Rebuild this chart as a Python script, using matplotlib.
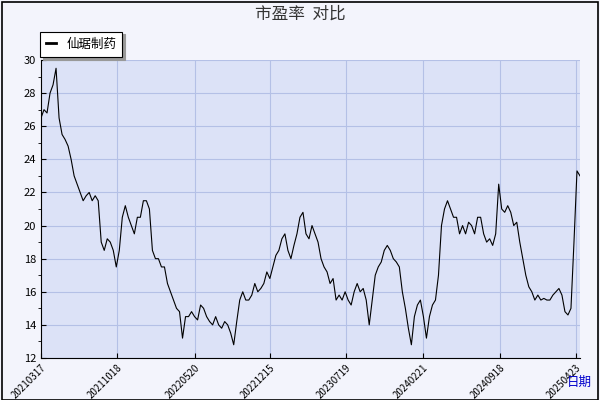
import numpy as np
import matplotlib
matplotlib.use("Agg")
import matplotlib.pyplot as plt
from matplotlib.patches import Rectangle

plt.rcParams['font.family'] = ['Noto Sans CJK SC', 'DejaVu Sans']

title = "市盈率  对比"
series_name = "仙琚制药"
xlabel = "日期"
date_labels = ["20210317", "20211018", "20220520", "20221215", "20230719", "20240221", "20240918", "20250423"]
pe = [26.5, 27, 26.8, 28, 28.5, 29.5, 26.5, 25.5, 25.2, 24.8, 24, 23, 22.5, 22, 21.5, 21.8, 22, 21.5, 21.8, 21.5,
      19, 18.5, 19.2, 19, 18.5, 17.5, 18.5, 20.5, 21.2, 20.5, 20, 19.5, 20.5, 20.5, 21.5, 21.5, 21.0, 18.5, 18, 18,
      17.5, 17.5, 16.5, 16, 15.5, 15, 14.8, 13.2, 14.5, 14.5, 14.8, 14.5, 14.3, 15.2, 15, 14.5, 14.2, 14, 14.5, 14,
      13.8, 14.2, 14, 13.5, 12.8, 14.2, 15.5, 16, 15.5, 15.5, 15.8, 16.5, 16, 16.2, 16.5, 17.2, 16.8, 17.5, 18.2, 18.5,
      19.2, 19.5, 18.5, 18, 18.8, 19.5, 20.5, 20.8, 19.5, 19.2, 20, 19.5, 19, 18, 17.5, 17.2, 16.5, 16.8, 15.5, 15.8,
      15.5, 16, 15.5, 15.2, 16, 16.5, 16, 16.2, 15.5, 14, 15.5, 17, 17.5, 17.8, 18.5, 18.8, 18.5, 18.0, 17.8, 17.5,
      16, 15, 13.8, 12.8, 14.5, 15.2, 15.5, 14.5, 13.2, 14.5, 15.2, 15.5, 17, 20, 21, 21.5, 21.0, 20.5, 20.5, 19.5,
      20, 19.5, 20.2, 20, 19.5, 20.5, 20.5, 19.5, 19, 19.2, 18.8, 19.5, 22.5, 21, 20.8, 21.2, 20.8, 20, 20.2, 19,
      18, 17, 16.3, 16, 15.5, 15.8, 15.5, 15.6, 15.5, 15.5, 15.8, 16, 16.2, 15.8, 14.8, 14.6, 15, 19, 23.3, 23]

fig = plt.figure(figsize=(6, 4), dpi=100)
fig.patch.set_facecolor('#f3f4fc')
fig.patches.append(Rectangle((0.004, 0.0), 0.992, 0.996, transform=fig.transFigure,
                             fill=False, edgecolor='black', lw=1.2))
ax = fig.add_axes([41/600, 42/400, 539/600, 298/400])
ax.set_facecolor('#dce2f7')
n = len(pe)
x = np.arange(n)
ax.plot(x, pe, color='black', lw=0.8)
ax.set_xlim(0, n - 1)
ax.set_ylim(12, 30)
ax.set_yticks(np.arange(12, 31, 2))
ax.set_yticks(np.arange(12, 30, 1), minor=True)
tick_px = [41, 117, 195, 270, 346, 423, 500, 576]
ticks = [(p - 41) / 539 * (n - 1) for p in tick_px]
ax.set_xticks(ticks)
ax.set_xticklabels(date_labels, rotation=45, ha='right', fontsize=7, rotation_mode='anchor')
ax.tick_params(axis='y', labelsize=8, direction='in')
ax.tick_params(axis='x', direction='in')
ax.grid(True, color='#b4c0e6', lw=0.8)
for s in ['top', 'right']:
    ax.spines[s].set_visible(False)
fig.text(0.5, 0.965, title, ha='center', va='center', fontsize=12, color='#333333')
fig.text(0.965, 0.045, xlabel, ha='center', va='center', fontsize=9, color='#0000cc')
leg = ax.legend([series_name], loc='lower left', bbox_to_anchor=(-0.002, 1.01), fontsize=9,
                fancybox=False, framealpha=1, edgecolor='black', handlelength=0.8, borderaxespad=0.0,
                shadow={'color': '#999999', 'alpha': 1}, borderpad=0.5)
leg.get_frame().set_linewidth(0.8)
leg.legend_handles[0].set_linewidth(2)
fig.savefig('out.png', dpi=100, facecolor=fig.get_facecolor())
